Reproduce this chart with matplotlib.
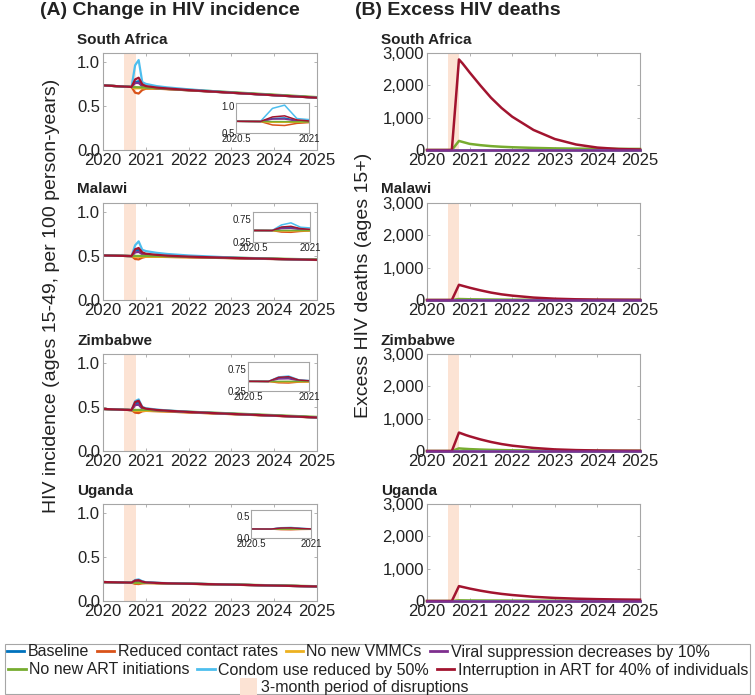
"""Change in HIV incidence and excess HIV deaths under COVID-19 disruptions (4 countries)."""

import matplotlib

matplotlib.use("Agg")

import matplotlib.pyplot as plt
from matplotlib.lines import Line2D
from matplotlib.patches import Patch, Rectangle
from matplotlib.ticker import FuncFormatter

plt.rcParams["font.family"] = ["Liberation Sans", "DejaVu Sans"]

# --- data ---

countries = ["South Africa", "Malawi", "Zimbabwe", "Uganda"]
scenarios = [
    "Baseline",
    "Reduced contact rates",
    "No new VMMCs",
    "Viral suppression decreases by 10%",
    "No new ART initiations",
    "Condom use reduced by 50%",
    "Interruption in ART for 40% of individuals",
]
shade_label = "3-month period of disruptions"
disruption = (2020.5, 2020.76)

inc_years = [2020.0, 2020.5, 2020.583, 2020.667, 2020.75, 2020.833, 2020.917,
             2021.0, 2021.25, 2021.5, 2022.0, 2023.0, 2024.0, 2025.0]

# HIV incidence per 100 person-years, one row per scenario (same order as `scenarios`)
sa_incidence = [
    [0.733, 0.719, 0.717, 0.715, 0.770, 0.780, 0.730, 0.715, 0.700, 0.692, 0.677, 0.649, 0.621, 0.593],
    [0.733, 0.719, 0.717, 0.715, 0.650, 0.640, 0.680, 0.695, 0.695, 0.690, 0.677, 0.649, 0.621, 0.593],
    [0.733, 0.719, 0.717, 0.715, 0.700, 0.700, 0.700, 0.700, 0.697, 0.691, 0.678, 0.651, 0.623, 0.595],
    [0.733, 0.719, 0.717, 0.715, 0.760, 0.760, 0.725, 0.712, 0.700, 0.693, 0.679, 0.650, 0.622, 0.594],
    [0.733, 0.719, 0.717, 0.715, 0.713, 0.712, 0.710, 0.708, 0.702, 0.696, 0.683, 0.656, 0.628, 0.600],
    [0.733, 0.719, 0.717, 0.715, 0.960, 1.020, 0.770, 0.750, 0.725, 0.710, 0.688, 0.652, 0.622, 0.594],
    [0.733, 0.719, 0.717, 0.715, 0.800, 0.820, 0.745, 0.725, 0.708, 0.698, 0.680, 0.650, 0.621, 0.593],
]
mw_incidence = [
    [0.505, 0.500, 0.499, 0.498, 0.560, 0.570, 0.530, 0.515, 0.505, 0.498, 0.488, 0.476, 0.465, 0.455],
    [0.505, 0.500, 0.499, 0.498, 0.465, 0.460, 0.480, 0.490, 0.490, 0.488, 0.484, 0.474, 0.464, 0.454],
    [0.505, 0.500, 0.499, 0.498, 0.490, 0.490, 0.492, 0.492, 0.491, 0.489, 0.485, 0.476, 0.466, 0.456],
    [0.505, 0.500, 0.499, 0.498, 0.540, 0.545, 0.520, 0.510, 0.503, 0.497, 0.488, 0.477, 0.466, 0.456],
    [0.505, 0.500, 0.499, 0.498, 0.500, 0.500, 0.500, 0.500, 0.498, 0.496, 0.491, 0.481, 0.470, 0.460],
    [0.505, 0.500, 0.499, 0.498, 0.620, 0.665, 0.570, 0.555, 0.535, 0.522, 0.505, 0.482, 0.466, 0.455],
    [0.505, 0.500, 0.499, 0.498, 0.575, 0.590, 0.540, 0.525, 0.512, 0.503, 0.492, 0.478, 0.466, 0.455],
]
zw_incidence = [
    [0.477, 0.467, 0.466, 0.464, 0.540, 0.550, 0.490, 0.475, 0.463, 0.455, 0.442, 0.421, 0.401, 0.381],
    [0.477, 0.467, 0.466, 0.464, 0.435, 0.430, 0.450, 0.455, 0.452, 0.447, 0.437, 0.418, 0.399, 0.379],
    [0.477, 0.467, 0.466, 0.464, 0.455, 0.455, 0.456, 0.456, 0.452, 0.448, 0.438, 0.419, 0.400, 0.380],
    [0.477, 0.467, 0.466, 0.464, 0.520, 0.525, 0.480, 0.470, 0.460, 0.453, 0.441, 0.421, 0.401, 0.381],
    [0.477, 0.467, 0.466, 0.464, 0.465, 0.466, 0.466, 0.466, 0.462, 0.457, 0.446, 0.427, 0.407, 0.387],
    [0.477, 0.467, 0.466, 0.464, 0.565, 0.585, 0.500, 0.485, 0.470, 0.460, 0.445, 0.422, 0.401, 0.380],
    [0.477, 0.467, 0.466, 0.464, 0.555, 0.570, 0.495, 0.480, 0.466, 0.457, 0.443, 0.421, 0.401, 0.380],
]
ug_incidence = [
    [0.215, 0.210, 0.209, 0.208, 0.228, 0.232, 0.218, 0.210, 0.204, 0.201, 0.196, 0.186, 0.175, 0.165],
    [0.215, 0.210, 0.209, 0.208, 0.195, 0.192, 0.200, 0.203, 0.202, 0.200, 0.195, 0.185, 0.175, 0.165],
    [0.215, 0.210, 0.209, 0.208, 0.204, 0.203, 0.203, 0.203, 0.202, 0.200, 0.195, 0.185, 0.175, 0.165],
    [0.215, 0.210, 0.209, 0.208, 0.225, 0.228, 0.216, 0.209, 0.204, 0.201, 0.196, 0.186, 0.175, 0.165],
    [0.215, 0.210, 0.209, 0.208, 0.208, 0.208, 0.207, 0.206, 0.204, 0.202, 0.197, 0.188, 0.178, 0.168],
    [0.215, 0.210, 0.209, 0.208, 0.238, 0.245, 0.225, 0.213, 0.206, 0.203, 0.197, 0.186, 0.175, 0.165],
    [0.215, 0.210, 0.209, 0.208, 0.232, 0.236, 0.220, 0.211, 0.205, 0.201, 0.196, 0.186, 0.175, 0.165],
]

death_years = [2020.0, 2020.5, 2020.583, 2020.667, 2020.75, 2020.833, 2020.917, 2021.0, 2021.25,
               2021.5, 2021.75, 2022.0, 2022.5, 2023.0, 2023.5, 2024.0, 2024.5, 2025.0]

# excess HIV deaths (ages 15+); scenarios without excess deaths stay at zero
no_excess = [0, 0, 0, 0, 0, 0, 0, 0, 0, 0, 0, 0, 0, 0, 0, 0, 0, 0]
sa_deaths_no_art = [0, 0, 0, 140, 280, 250, 220, 190, 150, 120, 100, 85, 65, 50, 42, 38, 35, 33]
sa_deaths_interrupt = [0, 0, 0, 1400, 2800, 2680, 2540, 2400, 2000, 1620, 1300, 1030, 620, 340, 170, 75, 30, 15]
mw_deaths_no_art = [0, 0, 0, 15, 30, 28, 25, 22, 18, 15, 12, 10, 7, 5, 4, 3, 3, 3]
mw_deaths_interrupt = [0, 0, 0, 235, 470, 440, 410, 380, 300, 230, 175, 135, 75, 40, 22, 12, 8, 5]
zw_deaths_no_art = [0, 0, 0, 40, 80, 72, 65, 58, 45, 35, 28, 22, 15, 10, 8, 6, 5, 5]
zw_deaths_interrupt = [0, 0, 0, 285, 570, 530, 490, 455, 360, 280, 215, 165, 95, 50, 28, 16, 10, 7]
ug_deaths_no_art = [0, 0, 0, 10, 20, 19, 18, 17, 15, 14, 13, 12, 11, 10, 10, 9, 9, 9]
ug_deaths_interrupt = [0, 0, 0, 230, 460, 435, 410, 385, 320, 265, 220, 185, 130, 95, 72, 57, 47, 40]

incidence = [sa_incidence, mw_incidence, zw_incidence, ug_incidence]
deaths = [
    [no_excess, no_excess, no_excess, no_excess, sa_deaths_no_art, no_excess, sa_deaths_interrupt],
    [no_excess, no_excess, no_excess, no_excess, mw_deaths_no_art, no_excess, mw_deaths_interrupt],
    [no_excess, no_excess, no_excess, no_excess, zw_deaths_no_art, no_excess, zw_deaths_interrupt],
    [no_excess, no_excess, no_excess, no_excess, ug_deaths_no_art, no_excess, ug_deaths_interrupt],
]

inset_ylims = [(0.5, 1.06), (0.25, 0.9), (0.25, 0.9), (0.0, 0.65)]
inset_yticks = [[0.5, 1.0], [0.25, 0.75], [0.25, 0.75], [0.0, 0.5]]
inset_ylabels = [["0.5", "1.0"], ["0.25", "0.75"], ["0.25", "0.75"], ["0.0", "0.5"]]

# --- style / layout (pixels of a 755x695 figure) ---

FIG_W, FIG_H = 755, 695
COLORS = ["#0072BD", "#D95319", "#EDB120", "#7E2F8E", "#77AC30", "#4DBEEE", "#A2142F"]
SHADE = "#fce3d4"
SPINE = "#a6a6a6"
TEXT = "#222222"
ROW_TOPS = [53, 203, 354, 504]
ROW_H = 97
LEFT_X = (103, 317)
RIGHT_X = (427, 640)
INSETS = [(236, 103, 309, 133), (253, 212, 310, 242), (248, 362, 309, 391), (251, 510, 311, 538)]


def _box(left, top, right, bottom):
    return [left / FIG_W, 1 - bottom / FIG_H, (right - left) / FIG_W, (bottom - top) / FIG_H]


def _style(ax, size=12, pad=2):
    for spine in ax.spines.values():
        spine.set_edgecolor(SPINE)
        spine.set_linewidth(0.8)
    ax.tick_params(direction="in", length=2.5, width=0.6, color=SPINE, labelcolor=TEXT,
                   labelsize=size, pad=pad, top=True, right=True)


def _main_axes(fig, x, top):
    ax = fig.add_axes(_box(x[0], top, x[1], top + ROW_H))
    _style(ax)
    ax.set_xlim(2020, 2025)
    ax.set_xticks([2020, 2021, 2022, 2023, 2024, 2025])
    ax.axvspan(*disruption, color=SHADE, lw=0, zorder=0)
    return ax


fig = plt.figure(figsize=(FIG_W / 100, FIG_H / 100), dpi=100)

for row, country in enumerate(countries):
    top = ROW_TOPS[row]

    # (A) incidence
    ax = _main_axes(fig, LEFT_X, top)
    for series, color in zip(incidence[row], COLORS):
        ax.plot(inc_years, series, color=color, lw=1.6)
    ax.set_ylim(0, 1.1)
    ax.set_yticks([0, 0.5, 1.0], labels=["0.0", "0.5", "1.0"])
    fig.text(77 / FIG_W, 1 - (top - 9.5) / FIG_H, country, fontsize=11, fontweight="bold",
             color=TEXT, va="baseline")

    inset = fig.add_axes(_box(*INSETS[row]))
    _style(inset, size=7, pad=1)
    inset.tick_params(length=0)
    for series, color in zip(incidence[row], COLORS):
        inset.plot(inc_years, series, color=color, lw=1.1)
    inset.set_xlim(2020.5, 2021)
    inset.set_xticks([2020.5, 2021], labels=["2020.5", "2021"])
    inset.set_ylim(*inset_ylims[row])
    inset.set_yticks(inset_yticks[row], labels=inset_ylabels[row])

    # (B) deaths
    ax = _main_axes(fig, RIGHT_X, top)
    for i, (series, color) in enumerate(zip(deaths[row], COLORS)):
        z = 4 if i == 3 else 3
        ax.plot(death_years, series, color=color, lw=1.8, zorder=z, clip_on=False)
    ax.set_ylim(0, 3000)
    ax.set_yticks([0, 1000, 2000, 3000])
    ax.yaxis.set_major_formatter(FuncFormatter(lambda v, _: f"{v:,.0f}"))
    fig.text(381 / FIG_W, 1 - (top - 9.5) / FIG_H, country, fontsize=11, fontweight="bold",
             color=TEXT, va="baseline")

fig.text(40 / FIG_W, 1 - 15 / FIG_H, "(A) Change in HIV incidence", fontsize=14,
         fontweight="bold", color=TEXT, va="baseline")
fig.text(355 / FIG_W, 1 - 15 / FIG_H, "(B) Excess HIV deaths", fontsize=14,
         fontweight="bold", color=TEXT, va="baseline")
fig.text(52 / FIG_W, 1 - 296 / FIG_H, "HIV incidence (ages 15-49, per 100 person-years)",
         fontsize=14, rotation=90, ha="center", va="center", color=TEXT)
fig.text(363 / FIG_W, 1 - 285 / FIG_H, "Excess HIV deaths (ages 15+)",
         fontsize=14, rotation=90, ha="center", va="center", color=TEXT)

# --- legend: three centred rows inside one frame ---
handles = [Line2D([], [], color=c, lw=2) for c in COLORS]
legend_kw = dict(loc="center", frameon=False, fontsize=11.5, handlelength=1.1,
                 handletextpad=0.2, columnspacing=0.5, borderpad=0, borderaxespad=0,
                 labelcolor=TEXT)
fig.legend(handles[:4], scenarios[:4], ncol=4, bbox_to_anchor=(358 / FIG_W, 1 - 652 / FIG_H), **legend_kw)
fig.legend(handles[4:], scenarios[4:], ncol=3, bbox_to_anchor=(378 / FIG_W, 1 - 670 / FIG_H), **legend_kw)
fig.legend([Patch(facecolor=SHADE, edgecolor="none")], [shade_label], ncol=1,
           bbox_to_anchor=(354 / FIG_W, 1 - 687 / FIG_H), handleheight=1.3, **legend_kw)
fig.add_artist(Rectangle((5 / FIG_W, 1 - 694 / FIG_H), 745 / FIG_W, 50 / FIG_H,
                         transform=fig.transFigure, fill=False, edgecolor=SPINE, lw=0.8))

fig.savefig("out.png", dpi=100)
